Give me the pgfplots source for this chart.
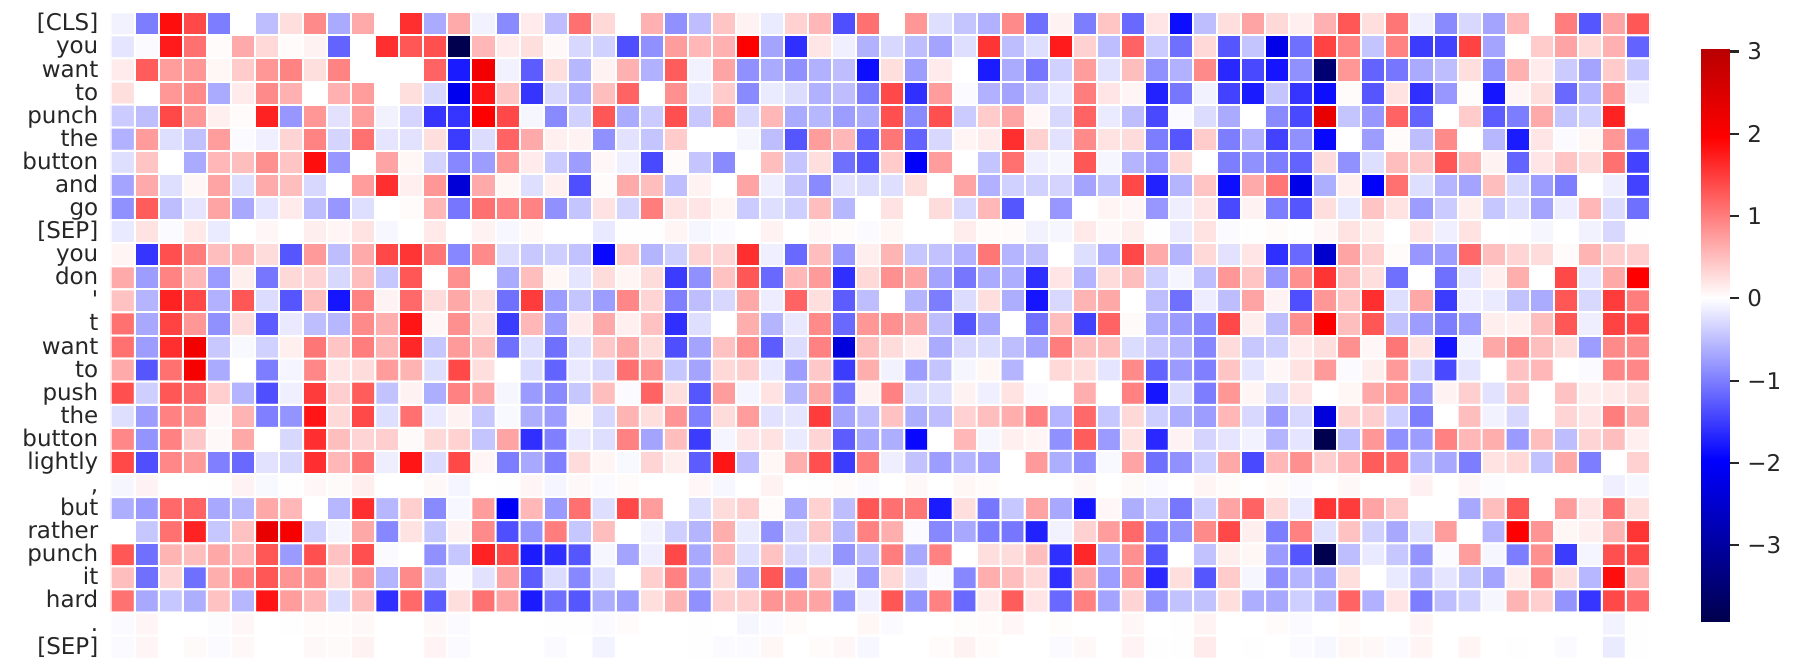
\documentclass[border=0pt]{standalone}
\usepackage{pgfplots}
\usepackage{fontspec}
\pgfplotsset{compat=1.18}
\newfontfamily\lab{DejaVu Sans}
\definecolor{txt}{gray}{0.15}
\pgfplotsset{colormap={seis}{rgb255(0pt)=(0,0,77) rgb255(196pt)=(0,0,255) rgb255(392pt)=(255,255,255) rgb255(588pt)=(255,0,0) rgb255(695pt)=(185,0,0)}}
\begin{document}
\begin{tikzpicture}
\useasboundingbox (0,0) rectangle (896.5pt,335.5pt);
\begin{axis}[
  at={(55.35pt,6.15pt)}, anchor=south west,
  scale only axis, width=769.65pt, height=323.2pt,
  xmin=-0.5, xmax=63.5, ymin=-0.5, ymax=27.5, y dir=reverse,
  axis line style={draw=none}, xtick=\empty,
  ytick={0,...,27}, 
  y tick style={draw=none},
  yticklabels={{[CLS]},you,want,to,punch,the,button,and,go,{[SEP]},you,don,{'},t,want,to,push,the,button,lightly,{,},but,rather,punch,it,hard,{.},{[SEP]}},
  yticklabel style={font=\lab\fontsize{11.5}{11.5}\selectfont, text=txt, inner sep=0pt, anchor=east, text height=8.6pt, text depth=1.6pt, xshift=-6pt},
  colormap name=seis,
  point meta min=-3.92, point meta max=3.03,
]
\addplot[matrix plot*, mesh/cols=64, point meta=\thisrowno{0}, draw=white, line width=1pt]
 table[header=false, row sep=\\, x expr={\coordindex-64*floor((\coordindex+0.5)/64)}, y expr={floor((\coordindex+0.5)/64)}]{
-.1\\-1\\1.85\\1.4\\-1\\0\\-.5\\.25\\.9\\-.65\\.65\\0\\1.6\\-.65\\.65\\-.1\\-.9\\.15\\-.5\\1.1\\.3\\0\\.6\\-.85\\-.5\\.45\\.1\\-.15\\.35\\.55\\-1.35\\1.1\\0\\.8\\-.25\\-.45\\-.6\\.9\\-1.1\\.1\\-1\\.45\\-1.15\\.2\\-1.85\\-.5\\.25\\.7\\.3\\.12\\.6\\1.3\\.25\\1.05\\-.12\\-.9\\-.3\\-.7\\.55\\0\\1\\-1.3\\.7\\1.3\\
-.2\\-.03\\1.75\\1.1\\.03\\.65\\.3\\.03\\.1\\-1.2\\0\\1.6\\1.3\\1.35\\-3.9\\.55\\.15\\.25\\.05\\-.3\\-.35\\-1.35\\-.85\\.75\\.55\\.6\\1.96\\-.7\\-1.6\\.2\\-.12\\-.6\\-.3\\-.5\\-.7\\-.25\\1.55\\-.5\\-.25\\1.75\\.35\\-.5\\1.2\\-.4\\-1.1\\.3\\-1.3\\-.45\\-2.2\\-1.1\\1.45\\.95\\-.45\\.95\\-1.5\\-1.45\\1.45\\-.7\\0\\.4\\.7\\.3\\.6\\-1.2\\
.15\\1.25\\.75\\.8\\.07\\.4\\.8\\.95\\.25\\.95\\0\\0\\0\\1.2\\-1.75\\2.15\\-.1\\-1.25\\.25\\-.55\\.1\\.6\\-.6\\1.25\\-.1\\.7\\-.85\\-.65\\-.85\\-.6\\-.5\\-1.85\\.25\\-.75\\.15\\0\\-1.75\\-.65\\-1.05\\-.35\\.75\\-.22\\.5\\-.85\\-.6\\.9\\-1.65\\-1.4\\-1.8\\-.85\\-3.5\\.8\\-1.2\\-1.05\\-.65\\-.5\\.25\\-.85\\.6\\.15\\-.4\\-.7\\.4\\-.4\\
.25\\0\\.8\\.9\\-.65\\.15\\.9\\.6\\0\\.6\\.75\\0\\.25\\-.3\\-2.15\\1.8\\.45\\-1.55\\-.3\\-.6\\.5\\1.2\\0\\.85\\-.15\\.4\\-.9\\-.15\\-.27\\-.6\\-.5\\-1\\1.4\\-1.6\\.75\\-.03\\-.6\\-.7\\-.42\\-.17\\1\\.2\\.08\\-1.7\\-1.05\\-.1\\-1.45\\-1.75\\-.45\\-1.55\\-1.85\\.03\\-1.3\\.22\\-1.6\\-.8\\.02\\-1.8\\.08\\.25\\-1.15\\-.55\\.8\\-.1\\
-.4\\-.5\\1.4\\.8\\.12\\.03\\1.7\\-.8\\.8\\-.22\\.75\\-.1\\-.32\\-1.55\\-1.55\\1.96\\1.4\\-.07\\-.9\\-.35\\1.3\\-.65\\-.4\\1.35\\-.42\\.8\\-.3\\.55\\-.65\\-.55\\-.75\\-.65\\1.35\\-.9\\1.35\\-.4\\.4\\.7\\.06\\-.3\\1.2\\-.15\\-.5\\-1.4\\-.03\\-.27\\-.65\\0\\-.9\\-1.4\\2.3\\-.45\\-.8\\1.2\\-1.2\\0\\.4\\-1.25\\-1\\.65\\-.45\\-.35\\1.7\\0\\
-.6\\.77\\-.25\\-.48\\.75\\-.04\\-.12\\.33\\.95\\-.33\\1.1\\-.2\\-.22\\.25\\-1.5\\-.27\\1.2\\.65\\.12\\.1\\-.85\\-.22\\-.45\\.4\\0\\0\\-.07\\-.5\\-1.3\\.75\\.55\\-1.2\\1.05\\-1.2\\-.3\\.08\\.15\\1.6\\.35\\-.22\\.9\\.22\\.27\\-1\\-1.3\\.4\\-1\\-.6\\-1.45\\-.85\\-1.9\\0\\-.75\\.03\\-.5\\.9\\0\\-.55\\-1.75\\.2\\-.03\\.07\\.8\\-1\\
-.25\\.45\\0\\-.65\\.55\\.5\\.85\\.45\\1.85\\-.8\\0\\.7\\.07\\-.33\\-.92\\-.75\\.8\\.15\\-.4\\-.75\\.06\\-.12\\-1.4\\.03\\-.45\\-.9\\0\\.5\\-.45\\.25\\-1.1\\-1.3\\.4\\-2\\.75\\0\\-.45\\1.1\\-.12\\-.07\\1.3\\-.07\\-.58\\-.8\\.3\\0\\-1\\-.85\\-1\\-1.2\\.27\\-.85\\-.25\\.5\\.42\\1.3\\.55\\.1\\-1.2\\.2\\.45\\.27\\1.1\\-1.45\\
-.7\\.65\\-.25\\.07\\.7\\-.25\\.65\\.5\\-.3\\0\\.75\\1.6\\.12\\.8\\-2.4\\.65\\.07\\-.25\\.12\\-1.35\\.03\\.65\\.5\\-.5\\.1\\0\\.7\\-.13\\-.45\\-.9\\-.22\\-.27\\-.25\\.25\\0\\.7\\-.6\\-.35\\-.35\\-.33\\-.7\\-.47\\1.4\\-1.7\\-.58\\.45\\-1.85\\.65\\1.05\\-2.2\\-.62\\.12\\-2\\1.1\\-.25\\-.58\\-.7\\.5\\-.3\\-.75\\-1\\0\\-.13\\-1.45\\
-.85\\1.25\\-.5\\-.2\\.7\\-.67\\-.2\\.15\\-.5\\-.8\\-.25\\0\\.03\\.55\\-1.05\\1.1\\.95\\.95\\-.85\\-.45\\.22\\-.33\\1\\.22\\.2\\.08\\-.4\\-.25\\-.37\\.5\\-.55\\0\\.22\\0\\.27\\-.3\\.55\\-1.3\\0\\-.8\\0\\.08\\.06\\-.8\\-.13\\.2\\-1.4\\.1\\-1\\-1.3\\.25\\-.18\\.45\\.22\\-.75\\-.4\\.13\\-.43\\-.25\\-.7\\-.14\\.55\\-.27\\-1.1\\
-.17\\.22\\-.03\\.17\\-.15\\0\\.06\\0\\.13\\.08\\.22\\-.06\\0\\.17\\0\\.1\\-.06\\.05\\0\\0\\-.17\\-.01\\.01\\.08\\-.07\\-.04\\0\\.1\\0\\.06\\.03\\-.03\\.07\\0\\0\\.14\\.03\\.03\\-.1\\-.07\\.17\\.05\\.13\\-.01\\-.15\\.22\\-.03\\-.01\\.03\\-.01\\.07\\.22\\.13\\0\\.2\\-.12\\.22\\0\\-.01\\-.07\\0\\-.1\\-.3\\-.01\\
.08\\-1.55\\1.35\\1\\.5\\.58\\.27\\-1.3\\.78\\-.5\\.65\\1.4\\1.55\\1.05\\-.92\\.9\\-.27\\-.42\\-.38\\-.47\\-1.9\\.4\\-.58\\-.38\\.33\\.33\\1.6\\-.12\\-1.15\\.5\\-.8\\.13\\.58\\-.43\\-.47\\-.6\\1.05\\-.58\\-.5\\0\\-.25\\-.6\\1.4\\.65\\-.58\\.3\\-.22\\.2\\-1.6\\-1.15\\-2.5\\.7\\.35\\.03\\-.8\\-.75\\1.15\\.5\\.33\\.27\\.03\\.58\\.37\\.37\\
.65\\-.75\\.95\\.55\\-.78\\.13\\-1.05\\.3\\.33\\-.3\\.5\\-.43\\1.3\\0\\.85\\0\\-.65\\.5\\.07\\-.2\\.27\\.08\\.27\\-1.5\\-.85\\.47\\1.3\\-1.15\\.55\\.78\\-1.6\\.3\\.85\\.7\\-.7\\-1.05\\-.65\\-.62\\-1.6\\.2\\-.58\\.27\\.5\\-.38\\-.08\\-.5\\.8\\.45\\-.8\\.85\\1.55\\.5\\.25\\-1.1\\0\\-1.1\\-.2\\.12\\.62\\0\\1.4\\-.2\\.67\\1.96\\
.47\\-.58\\1.7\\1.4\\-.6\\1.3\\-.27\\-1.3\\.5\\-1.8\\.95\\.1\\1.15\\.27\\.67\\.25\\-1.1\\1.5\\-.75\\-.45\\-.75\\.92\\.33\\-.98\\-.5\\-.3\\.67\\-.14\\1.2\\.25\\-1.25\\-.5\\0\\-.58\\-1\\-.27\\.25\\-.62\\-1.8\\-.3\\.58\\.67\\0\\-.5\\-1.1\\-.14\\-.5\\.7\\.1\\-1.35\\.8\\.45\\1.6\\-.25\\.67\\-1.5\\-.12\\-.15\\-.47\\-.65\\1.3\\-.3\\1.5\\1\\
1.1\\-.67\\1.45\\.8\\-.85\\.27\\-1.25\\-.17\\-.5\\-.55\\.9\\.62\\1.8\\.07\\.85\\.25\\-1.5\\.55\\-.75\\.15\\.65\\.12\\.47\\-1.6\\-.25\\0\\.62\\-.58\\-.18\\.9\\-1.15\\.8\\.85\\.7\\-.5\\-1.3\\-.67\\0\\-1.1\\.5\\-1.45\\1.2\\.04\\-.62\\-.78\\-.92\\1.4\\.13\\-.5\\.85\\1.96\\.5\\1.3\\-.47\\-.75\\-1\\-.75\\.13\\.12\\.5\\1.3\\-.13\\1.45\\1.4\\
1.1\\-.75\\1.6\\2.15\\-.42\\-.05\\-.35\\.12\\1.05\\.45\\1\\.58\\1.65\\-.43\\.78\\.5\\-1.1\\-.25\\-1.1\\-.25\\.42\\.67\\.27\\-1.35\\-.7\\.47\\.85\\-1.25\\-.27\\.97\\-2.35\\.5\\.27\\.14\\-.65\\-.3\\-.27\\-.5\\-.7\\1\\.5\\.5\\-.27\\-.42\\-.58\\-.92\\.27\\-.42\\-.38\\.15\\.25\\.85\\.06\\1.05\\.22\\-1.8\\-.08\\.67\\.9\\.5\\.27\\-.75\\.9\\.9\\
.65\\-1.3\\1.1\\2.1\\-.65\\0\\-1\\-.08\\.92\\.2\\.27\\.75\\.58\\-.25\\1.4\\.25\\0\\-.27\\-1.2\\-.17\\-.3\\1.1\\.85\\-.43\\-.7\\.3\\.38\\-.17\\-.75\\.42\\-1.5\\.62\\-.1\\-.75\\-.45\\-.07\\.07\\-.58\\0\\.3\\.25\\-.2\\.9\\-1.2\\-.78\\-.98\\.45\\-.2\\.06\\.22\\.78\\-.04\\.13\\.78\\-.3\\-1.4\\-.2\\0\\.47\\.55\\0\\-.04\\.92\\.92\\
1.35\\-.38\\1.3\\1.15\\.38\\-.58\\-1.35\\-.12\\1.5\\.38\\1.25\\-.47\\.1\\-.62\\.97\\.7\\-.07\\-.78\\-.9\\-.43\\.5\\-.03\\1.2\\.25\\-1.3\\.75\\-.08\\.22\\-.55\\.67\\-1.05\\.1\\.97\\-.27\\-.25\\.1\\-.12\\.22\\-.03\\0\\.62\\0\\.97\\-1.8\\-.27\\-1\\.8\\.08\\-.3\\.2\\0\\.07\\.67\\.8\\-.78\\.1\\.38\\-.22\\.47\\0\\.47\\.13\\.17\\.27\\
-.25\\-.75\\.97\\.85\\.06\\.58\\-.98\\-.82\\1.8\\.3\\1.4\\-.25\\1.1\\-.17\\.1\\-.43\\-.05\\-.62\\-.75\\.07\\-.3\\.58\\.25\\.82\\-.98\\.27\\.75\\-.22\\-.2\\1.5\\-.7\\-.5\\.47\\-.62\\-.5\\.35\\.5\\.62\\.97\\-.58\\1.15\\-.43\\.3\\-.38\\-.62\\-.75\\.55\\-.3\\-.78\\-.3\\-2.35\\.33\\.37\\-.38\\-1\\0\\.5\\-.1\\-.3\\0\\.33\\.2\\1\\.62\\
.92\\-.82\\.97\\.42\\.05\\.67\\0\\-.3\\1.6\\.5\\.33\\.38\\.04\\.3\\.35\\-.45\\.7\\-1.6\\-.98\\-.18\\-.25\\.97\\-.7\\.5\\-1.5\\-.08\\.2\\.22\\-.15\\.33\\-1.25\\-.67\\-.62\\-1.9\\0\\.55\\-.07\\.12\\.08\\-.85\\1.25\\-.78\\.22\\-1.65\\.1\\-.33\\-.2\\-.1\\-.58\\-.2\\-3.9\\-.5\\.8\\-.85\\-.75\\.97\\.55\\.62\\-.78\\.5\\-.5\\.33\\.5\\.12\\
1.4\\-1.35\\.92\\.78\\-.98\\-1.15\\-.22\\-.3\\1.6\\.55\\1.05\\-.13\\1.8\\-.28\\1.4\\.08\\-1\\-.67\\-.98\\.27\\.08\\-.05\\.33\\.13\\-1.25\\1.8\\-.5\\.07\\.62\\1.35\\-1.5\\1\\-.13\\-.47\\-.75\\-.58\\-.7\\0\\.78\\-.62\\-.85\\-.05\\.7\\-1.1\\-.85\\-.38\\.67\\-1.4\\.55\\.85\\.38\\.55\\1.25\\1.15\\-.55\\-.67\\-1\\.22\\.3\\-.47\\.67\\-1\\0\\.35\\
-.07\\.1\\0\\0\\-.01\\.1\\-.05\\-.01\\.06\\.04\\.13\\0\\0\\.05\\-.08\\0\\-.01\\.08\\-.08\\.05\\-.04\\.03\\0\\0\\.06\\-.06\\0\\.1\\0\\-.01\\.03\\-.03\\0\\.05\\0\\.07\\.03\\0\\0\\0\\.05\\0\\.04\\-.03\\0\\.08\\.03\\0\\.03\\-.03\\0\\.05\\0\\0\\.11\\0\\.06\\-.02\\0\\0\\0\\0\\-.12\\-.06\\
-.62\\-.78\\1.15\\1.2\\-.67\\-.55\\.67\\.55\\0\\-.55\\1.6\\-.55\\.38\\-.9\\-.06\\.75\\-2.05\\.55\\-.78\\1.1\\-.25\\1.4\\.75\\0\\-.27\\.27\\.37\\.03\\-.67\\.35\\-.5\\1.3\\1.1\\1.05\\-1.75\\.25\\-1.05\\-.43\\.7\\-.67\\-1.8\\.06\\-.62\\-.43\\-1.05\\-.38\\.7\\1.2\\.3\\-.17\\1.55\\1.5\\.7\\.42\\0\\0\\-.67\\.5\\1.3\\0\\.75\\.2\\1.1\\.25\\
0\\-.43\\1.1\\1.7\\-.43\\.47\\2.3\\2.1\\-.38\\-.08\\.67\\-.92\\.22\\-.43\\.1\\.9\\-1.35\\-.82\\1\\-.43\\.5\\0\\-.1\\-.38\\-.58\\.62\\-.15\\-.85\\-.3\\.42\\-.55\\.97\\.62\\-.04\\-.92\\-.67\\-1\\-1.05\\-1.7\\-.1\\.35\\.75\\1.15\\-1\\-.82\\.9\\1.4\\.13\\-1\\.97\\-.24\\.47\\-.35\\-.67\\-.25\\.75\\0\\-.58\\1.96\\.82\\.07\\.12\\.58\\1.55\\
1.3\\-1.1\\.58\\.5\\.67\\.55\\1.3\\-.78\\1.35\\.47\\1.35\\-.03\\0\\-.85\\-.43\\1.7\\1.4\\-1.75\\-1.6\\-1.3\\-.07\\-.7\\-.13\\1.4\\-.67\\.55\\-.25\\.47\\-.3\\-.22\\-.82\\-.5\\1\\-.67\\.97\\0\\.25\\.27\\.5\\-1.6\\1.65\\-.62\\.85\\-1.3\\0\\-.47\\.13\\.07\\-.78\\-1.3\\-3.9\\-.5\\-.17\\-.43\\-.82\\-.03\\.75\\-.07\\-1\\.85\\-1.5\\-.08\\1.35\\1.4\\
.5\\-1.1\\.33\\-1.1\\.62\\.92\\1.3\\.82\\.85\\.25\\.78\\-.58\\.9\\-.47\\-.03\\-.22\\.7\\-1.25\\-.27\\-.92\\-.25\\0\\.37\\.97\\-.67\\.27\\-.67\\1.3\\-.9\\.5\\-.13\\-.78\\.3\\-.22\\-.03\\-.92\\.62\\.5\\.3\\-1.6\\.67\\-.75\\.82\\-1.65\\.25\\-1.3\\.4\\-.07\\-.85\\-.58\\-.67\\.25\\0\\-.17\\-.55\\-.2\\-.43\\-.7\\.13\\.9\\.25\\-.55\\1.85\\.58\\
1.08\\-.67\\-.43\\-.62\\.47\\-.55\\1.8\\.75\\.55\\-.27\\.5\\-1.6\\1.15\\-1.25\\.25\\1.08\\.7\\-1.75\\-1.1\\-1.3\\-.62\\-.75\\.25\\.58\\-.85\\.37\\.37\\.82\\.75\\.7\\-.82\\-.12\\1.3\\-.82\\.97\\-1.15\\.15\\1.25\\.2\\-1.15\\.97\\-.7\\.33\\-.82\\-.47\\-.47\\.25\\-.62\\-.67\\-.38\\-.58\\1.2\\-.6\\.2\\-1\\-.5\\-.35\\-.07\\.58\\.38\\-.82\\-1.55\\1.4\\1.15\\
-.03\\.08\\0\\0\\-.02\\.06\\0\\-.01\\.03\\.03\\.05\\0\\0\\.05\\-.03\\0\\0\\0\\-.01\\-.01\\-.04\\.03\\0\\0\\-.01\\0\\-.07\\-.03\\.03\\0\\0\\.07\\-.03\\0\\0\\.02\\.03\\.06\\0\\.02\\0\\0\\.06\\0\\.01\\.09\\0\\0\\.03\\-.03\\0\\.03\\0\\0\\.08\\0\\0\\0\\0\\0\\0\\0\\-.09\\-.01\\
-.04\\.08\\0\\.04\\-.03\\.05\\0\\0\\.05\\.04\\.1\\0\\0\\.09\\-.04\\0\\0\\0\\-.03\\0\\-.09\\0\\0\\0\\-.01\\-.03\\-.03\\.07\\0\\.03\\.06\\-.06\\0\\0\\.03\\.1\\.03\\0\\0\\-.03\\.05\\0\\.09\\-.01\\-.01\\.15\\0\\-.01\\0\\-.03\\-.06\\.07\\.05\\-.03\\.08\\0\\.08\\0\\-.01\\0\\-.03\\0\\-.15\\-.01\\
};
\end{axis}
\begin{axis}[
  at={(850.5pt,25pt)}, anchor=south west,
  scale only axis, width=14pt, height=286pt,
  xmin=0, xmax=1, ymin=-3.92, ymax=3.03,
  axis x line=none, axis y line*=right, y axis line style={draw=none, -},
  xtick=\empty,
  ytick={-3,-2,-1,0,1,2,3}, yticklabels={\symbol{"2212}3,\symbol{"2212}2,\symbol{"2212}1,0,1,2,3},
  tick align=outside, major tick length=5pt,
  every tick/.append style={draw=txt, line width=1.1pt},
  yticklabel style={font=\lab\fontsize{11.5}{11.5}\selectfont, text=txt, inner sep=0pt, anchor=west, xshift=4pt},
  colormap name=seis,
  point meta min=-3.92, point meta max=3.03,
]
\addplot[surf, shader=interp, mesh/cols=2, point meta=y] table {
x y
0 -3.92
1 -3.92
0 -1.96
1 -1.96
0 0
1 0
0 1.96
1 1.96
0 3.03
1 3.03
};
\end{axis}
\end{tikzpicture}
\end{document}
